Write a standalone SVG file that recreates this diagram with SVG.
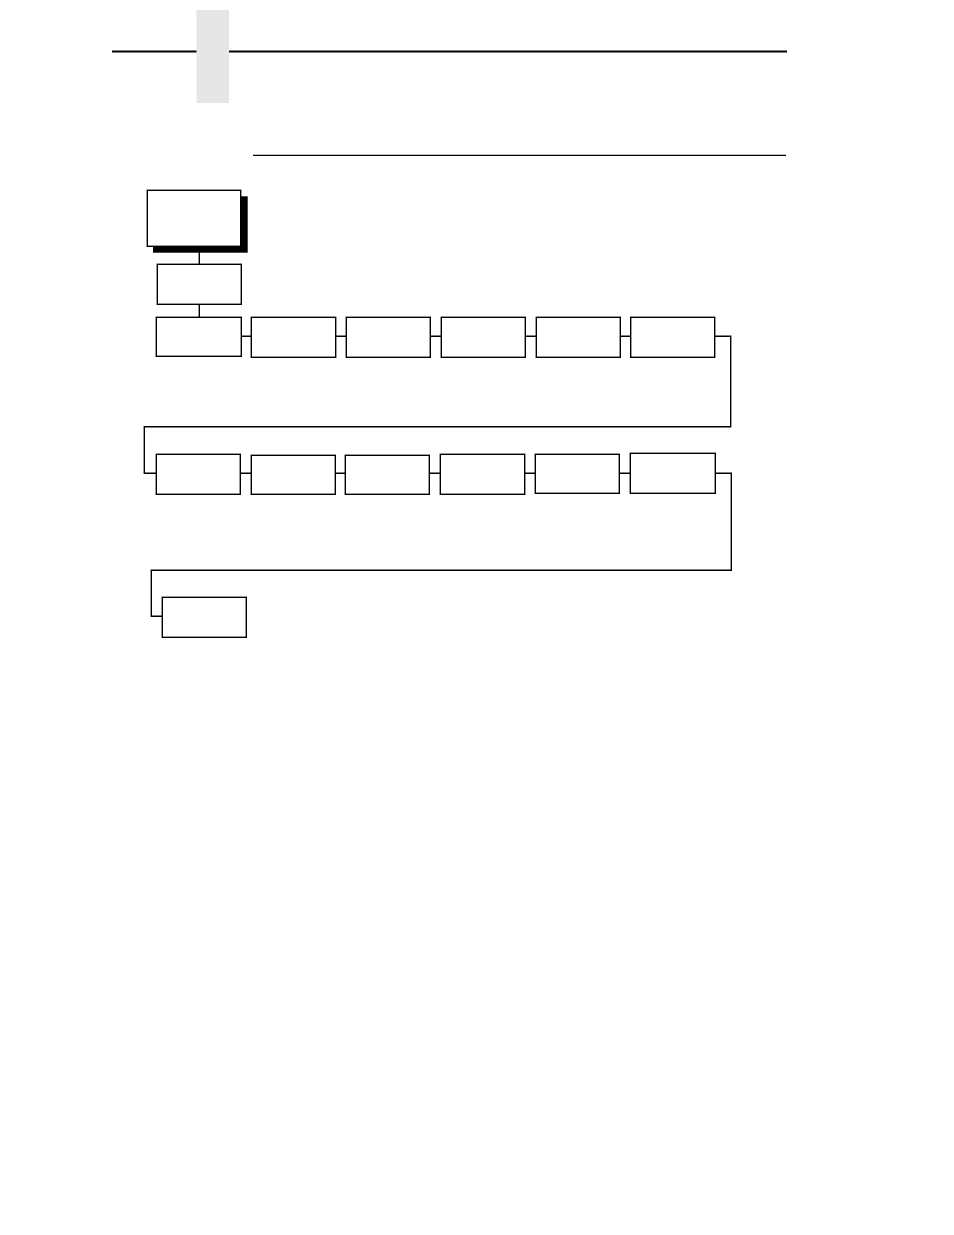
<svg xmlns="http://www.w3.org/2000/svg" width="954" height="1235" viewBox="0 0 954 1235">
<style>
.box{fill:#fff;stroke:#000;stroke-width:1.4}
.ln{fill:none;stroke:#000;stroke-width:1.4}
</style>
<rect width="954" height="1235" fill="#fff"/>
<g id="header">
<line x1="112" y1="51.5" x2="787" y2="51.5" stroke="#000" stroke-width="2"/>
<rect x="196.5" y="10" width="32.5" height="93" fill="#e6e6e6"/>
<line x1="253" y1="155.3" x2="786" y2="155.3" stroke="#000" stroke-width="1.2"/>
</g>
<g id="connectors">
<path class="ln" d="M199.3 246.3V264.3M199.3 304.3V317.3"/>
<path class="ln" d="M241.3 336.3H251.3M335.7 336.3H346.3M430.3 336.3H441.3M525.3 336.3H536.3M620.3 336.3H630.7"/>
<path class="ln" d="M714.7 336.3H730.7V426.7H144.3V473.3H156.3"/>
<path class="ln" d="M240.3 473.3H251.3M335.3 473.3H345.3M429.3 473.3H440.3M524.7 473.3H535.3M619.3 473.3H630.3"/>
<path class="ln" d="M715.3 473.3H731.3V570.3H151.3V616.3H162.3"/>
</g>
<g id="node-top">
<rect x="153" y="196.3" width="94.7" height="56.4" fill="#000"/>
<rect class="box" x="147.3" y="190.3" width="93.4" height="56"/>
</g>
<g id="node-2"><rect class="box" x="157.3" y="264.3" width="84" height="40"/></g>
<g id="node-r1-1"><rect class="box" x="156.3" y="317.3" width="85" height="39"/></g>
<g id="node-r1-2"><rect class="box" x="251.3" y="317.3" width="84.4" height="40"/></g>
<g id="node-r1-3"><rect class="box" x="346.3" y="317.3" width="84" height="40"/></g>
<g id="node-r1-4"><rect class="box" x="441.3" y="317.3" width="84" height="40"/></g>
<g id="node-r1-5"><rect class="box" x="536.3" y="317.3" width="84" height="40"/></g>
<g id="node-r1-6"><rect class="box" x="630.7" y="317.3" width="84" height="40"/></g>
<g id="node-r2-1"><rect class="box" x="156.3" y="454.3" width="84" height="40"/></g>
<g id="node-r2-2"><rect class="box" x="251.3" y="455.3" width="84" height="39"/></g>
<g id="node-r2-3"><rect class="box" x="345.3" y="455.3" width="84" height="39"/></g>
<g id="node-r2-4"><rect class="box" x="440.3" y="454.3" width="84.4" height="40"/></g>
<g id="node-r2-5"><rect class="box" x="535.3" y="454.3" width="84" height="39"/></g>
<g id="node-r2-6"><rect class="box" x="630.3" y="453.3" width="85" height="40"/></g>
<g id="node-r3-1"><rect class="box" x="162.3" y="597.3" width="84" height="40"/></g>
</svg>
